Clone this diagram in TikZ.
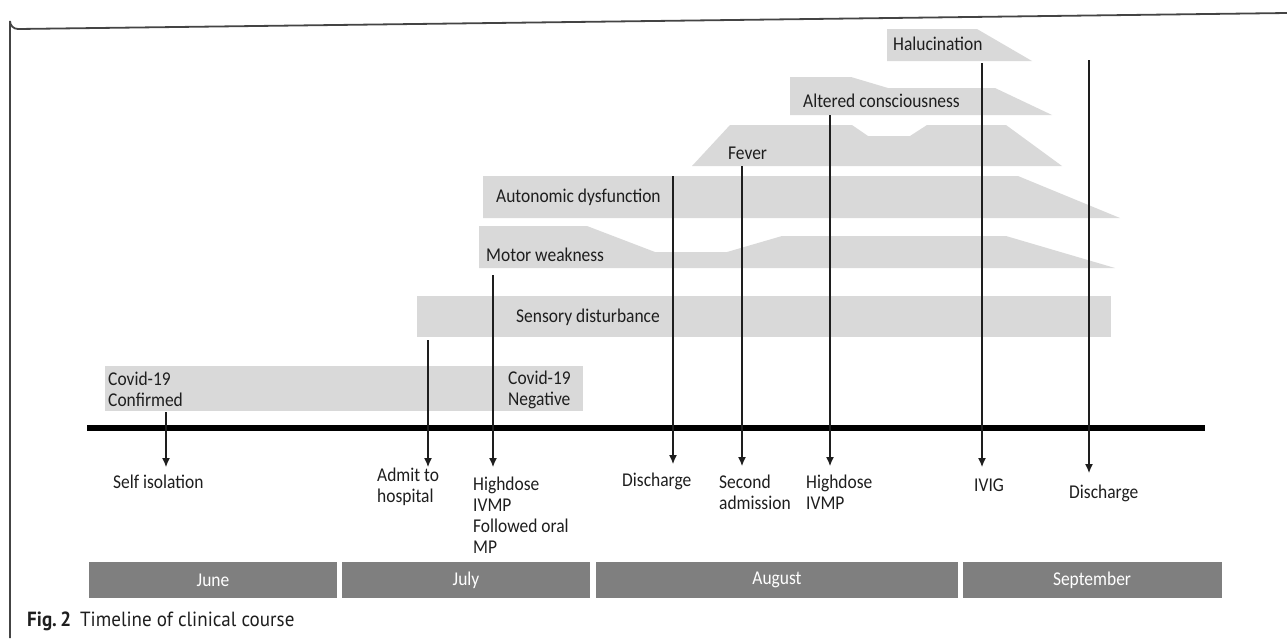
\documentclass[tikz,border=0pt]{standalone}
\usepackage{fontspec}
\setmainfont{Carlito}[FakeStretch=0.895]
\newfontfamily\capfont{PT Sans}[FakeStretch=0.93]
\usetikzlibrary{arrows.meta}
\definecolor{barfill}{HTML}{D9D9D9}
\definecolor{monthfill}{HTML}{7F7F7F}
\definecolor{framecol}{HTML}{444444}
\definecolor{txt}{HTML}{1E1E1E}
\tikzset{
  symptom/.style={fill=barfill, draw=none},
  monthbar/.style={fill=monthfill, draw=none},
  lbl/.style={anchor=west, inner sep=0pt, font=\fontsize{19.5}{21}\selectfont, text=txt, align=left},
  monthlbl/.style={inner sep=0pt, font=\fontsize{19.5}{21}\selectfont, text=white},
  event/.style={draw=txt, line width=1.2pt, -{Latex[length=9pt,width=8pt]}},
  timeline/.style={draw=black, line width=6pt},
}
\begin{document}
\begin{tikzpicture}[x=1pt,y=-1pt]
\useasboundingbox (0,0) rectangle (1287,638);
% frame
\draw[framecol, line width=1.8pt] (10,638) -- (10,21) arc[start angle=180, end angle=90, radius=8] -- (1287,13);

% symptom bands
\fill[symptom] (887,29) -- (977,29) -- (1032,61) -- (887,61) -- cycle;
\fill[symptom] (790,77) -- (851,77) -- (888,88) -- (995,88) -- (1052,115) -- (790,115) -- cycle;
\fill[symptom] (730,125) -- (852,125) -- (868,136) -- (910,136) -- (927,125) -- (1006,125) -- (1062,166) -- (692,166) -- cycle;
\fill[symptom] (483,176) -- (1018,176) -- (1120,218) -- (483,218) -- cycle;
\fill[symptom] (479,226) -- (587,226) -- (655,252) -- (727,252) -- (782,236) -- (1006,236) -- (1115,268) -- (479,268) -- cycle;
\fill[symptom] (417,296) rectangle (1111,337);
\fill[symptom] (105,366) rectangle (583,411);

\node[lbl] (hal) at (893,44) {Halucination};
\node[lbl] (alt) at (803,101) {Altered consciousness};
\node[lbl] (fev) at (728,153) {Fever};
\node[lbl] (aut) at (496,197) {Autonomic dysfunction};
\node[lbl] (mot) at (486,255) {Motor weakness};
\node[lbl] (sen) at (516,317) {Sensory disturbance};
\node[lbl] (cvc) at (108,389) {Covid-19\\Confirmed};
\node[lbl] (cvn) at (508,390) {Covid-19\\Negative};

% timeline
\coordinate (tl0) at (87,428);
\coordinate (tl1) at (1205,428);
\draw[timeline] (tl0) -- (tl1);

% event arrows
\coordinate (s1) at (166,412); \coordinate (e1) at (166,467);
\coordinate (s2) at (428,340); \coordinate (e2) at (428,467);
\coordinate (s3) at (493,275); \coordinate (e3) at (493,467);
\coordinate (s4) at (673,176); \coordinate (e4) at (673,464);
\coordinate (s5) at (742,166); \coordinate (e5) at (742,466);
\coordinate (s6) at (830,115); \coordinate (e6) at (830,466);
\coordinate (s7) at (982,63);  \coordinate (e7) at (982,467);
\coordinate (s8) at (1089,60); \coordinate (e8) at (1089,473);
\foreach \i in {1,...,8} { \draw[event] (s\i) -- (e\i); }

\node[lbl] (l1) at (113,482) {Self isolation};
\node[lbl] (l2) at (377,487) {Admit to\\hospital};
\node[lbl] (l3) at (473,515) {Highdose\\IVMP\\Followed oral\\MP};
\node[lbl] (l4) at (622,481) {Discharge};
\node[lbl] (l5) at (719,492) {Second\\admission};
\node[lbl] (l6) at (806,492) {Highdose\\IVMP};
\node[lbl] (l7) at (974,485) {IVIG};
\node[lbl] (l8) at (1069,493) {Discharge};

% months
\fill[monthbar] (89,562) rectangle (337,598);
\fill[monthbar] (342,562) rectangle (590,598);
\fill[monthbar] (596,562) rectangle (958,598);
\fill[monthbar] (963,562) rectangle (1222,598);
\node[monthlbl] (jun) at (213,580) {June};
\node[monthlbl] (jul) at (466,580) {July};
\node[monthlbl] (aug) at (777,580) {August};
\node[monthlbl] (sep) at (1092,580) {September};

% caption
\node[anchor=west, inner sep=0pt, font=\capfont\fontsize{20.5}{22}\selectfont, text=txt] (cap) at (27,621) {\textbf{Fig.\,2}\hspace{9pt}Timeline of clinical course};
\end{tikzpicture}
\end{document}
